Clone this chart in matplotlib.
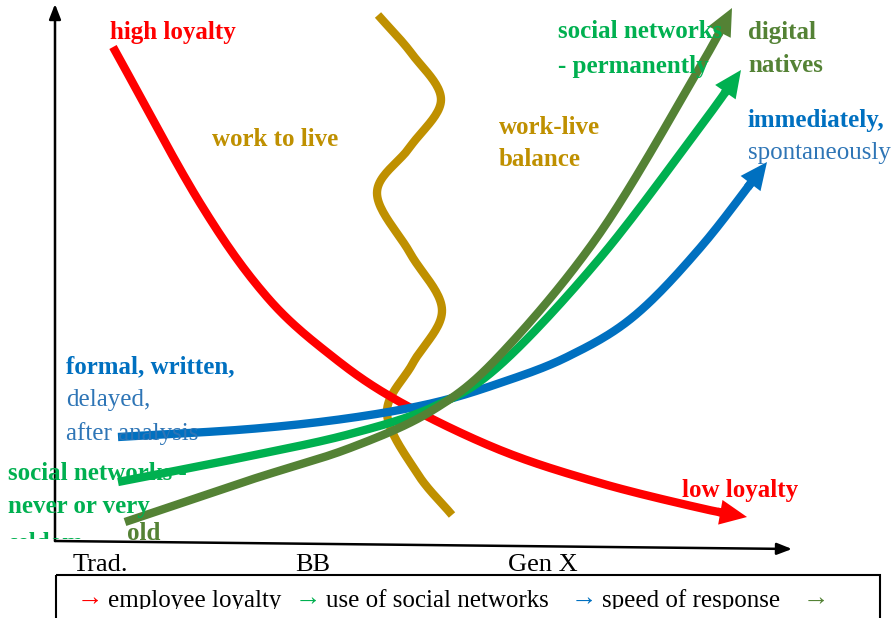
import numpy as np
import matplotlib.pyplot as plt
from matplotlib.patches import Rectangle

# curve control points (picture coordinates, y downwards)
loyalty_x = [113, 200, 267, 333, 400, 500, 600, 700, 747]
loyalty_y = [47, 203, 297, 357, 402, 450, 483, 508, 517]

speed_x = [118, 250, 350, 433, 500, 567, 633, 700, 767]
speed_y = [437, 429, 418, 403, 383, 357, 317, 248, 162]

social_x = [118, 250, 350, 433, 500, 600, 700, 741]
social_y = [482, 456, 434, 407, 365, 258, 127, 70]

natives_x = [125, 250, 350, 433, 500, 600, 700, 732]
natives_y = [522, 480, 448, 410, 355, 233, 67, 8]

work_x = [378, 412, 441, 410, 377, 410, 442, 413, 387, 417, 452]
work_y = [15, 54, 100, 147, 193, 253, 310, 363, 413, 473, 515]

generations = ["Trad.", "BB", "Gen X"]
generation_x = [73, 295, 508]

legend_names = ["employee loyalty", "use of social networks", "speed of response", ""]

RED = "#FF0000"
BLUE = "#0070C0"
LBLUE = "#2E75B6"
GREEN = "#00B050"
DGREEN = "#548235"
GOLD = "#BF9000"

plt.rcParams['font.family'] = ['Liberation Serif', 'DejaVu Serif']

LW = 6.0


def smooth(xs, ys, n=24):
    """Catmull-Rom path through the control points."""
    p = np.column_stack([xs, ys]).astype(float)
    p = np.vstack([2 * p[0] - p[1], p, 2 * p[-1] - p[-2]])
    out = []
    for i in range(1, len(p) - 2):
        p0, p1, p2, p3 = p[i - 1], p[i], p[i + 1], p[i + 2]
        for t in np.linspace(0, 1, n, endpoint=False):
            out.append(0.5 * ((2 * p1) + (-p0 + p2) * t
                              + (2 * p0 - 5 * p1 + 4 * p2 - p3) * t ** 2
                              + (-p0 + 3 * p1 - 3 * p2 + p3) * t ** 3))
    out.append(p[-2])
    return np.array(out)


def curve(ax, xs, ys, color, arrow=True, head=26):
    pts = smooth(xs, ys)
    if arrow:
        d = np.cumsum(np.r_[0, np.hypot(*np.diff(pts, axis=0).T)])
        cut = np.searchsorted(d, d[-1] - head)
        ax.plot(pts[:cut + 1, 0], pts[:cut + 1, 1], color=color, lw=LW,
                solid_capstyle='butt')
        ax.annotate("", xy=pts[-1], xytext=pts[cut - 2],
                    arrowprops=dict(width=LW, headwidth=18, headlength=head * 0.75,
                                    color=color, lw=0))
    else:
        ax.plot(pts[:, 0], pts[:, 1], color=color, lw=LW, solid_capstyle='butt')


fig = plt.figure(figsize=(8.96, 6.18), dpi=100)
ax = fig.add_axes([0, 0, 1, 1])
ax.set_xlim(0, 896)
ax.set_ylim(618, 0)
ax.axis('off')

# axes arrows
ax.annotate("", xy=(55, 4), xytext=(55, 541),
            arrowprops=dict(arrowstyle="-|>,head_length=0.9,head_width=0.35",
                            color="black", lw=1.8, shrinkA=0, shrinkB=0))
ax.annotate("", xy=(792, 549), xytext=(55, 541),
            arrowprops=dict(arrowstyle="-|>,head_length=0.9,head_width=0.35",
                            color="black", lw=1.8, shrinkA=0, shrinkB=0))

curve(ax, work_x, work_y, GOLD, arrow=False)
curve(ax, loyalty_x, loyalty_y, RED)
curve(ax, speed_x, speed_y, BLUE)
curve(ax, social_x, social_y, GREEN)
curve(ax, natives_x, natives_y, DGREEN)

fs = 18


def label(x, y, s, c, bold=True, clip=None):
    t = ax.text(x, y, s, color=c, fontsize=fs, fontweight='bold' if bold else 'normal',
                va='center', ha='left')
    if clip is not None:
        t.set_clip_path(clip)
        t.set_clip_on(True)
    return t


label(110, 32, "high loyalty", RED)
label(212, 140, "work to live", GOLD)
label(499, 127, "work-live", GOLD)
label(499, 160, "balance", GOLD)
label(558, 32, "social networks", GREEN)
label(558, 66, "- permanently", GREEN)
label(748, 32, "digital", DGREEN)
label(748, 66, "natives", DGREEN)
label(748, 120, "immediately,", BLUE)
label(748, 153, "spontaneously", LBLUE, bold=False)
label(66, 367, "formal, written,", BLUE)
label(66, 400, "delayed,", LBLUE, bold=False)
label(66, 434, "after analysis", LBLUE, bold=False)
label(8, 474, "social networks -", GREEN)
label(8, 507, "never or very", GREEN)
clip1 = Rectangle((0, 0), 896, 539, transform=ax.transData)
label(8, 543, "seldom", GREEN, clip=clip1)
label(127, 533, "old", DGREEN)
label(682, 491, "low loyalty", RED)

for g, gx in zip(generations, generation_x):
    ax.text(gx, 565, g, fontsize=19, color="black", va='center', ha='left')

# legend box (cut off at the bottom)
ax.add_patch(Rectangle((56, 575), 824, 60, fill=False, edgecolor="black", lw=1.5))
clip2 = Rectangle((0, 0), 896, 609, transform=ax.transData)
legend_colors = [RED, GREEN, BLUE, DGREEN]
legend_x = [77, 295, 571, 803]
for name, c, lx in zip(legend_names, legend_colors, legend_x):
    t1 = ax.text(lx, 599, "\u2192", color=c, fontsize=19, va='center', ha='left')
    t2 = ax.text(lx + 31, 601, name, color="black", fontsize=18, va='center', ha='left')
    for t in (t1, t2):
        t.set_clip_path(clip2)
        t.set_clip_on(True)

fig.savefig("out.png", dpi=100)
